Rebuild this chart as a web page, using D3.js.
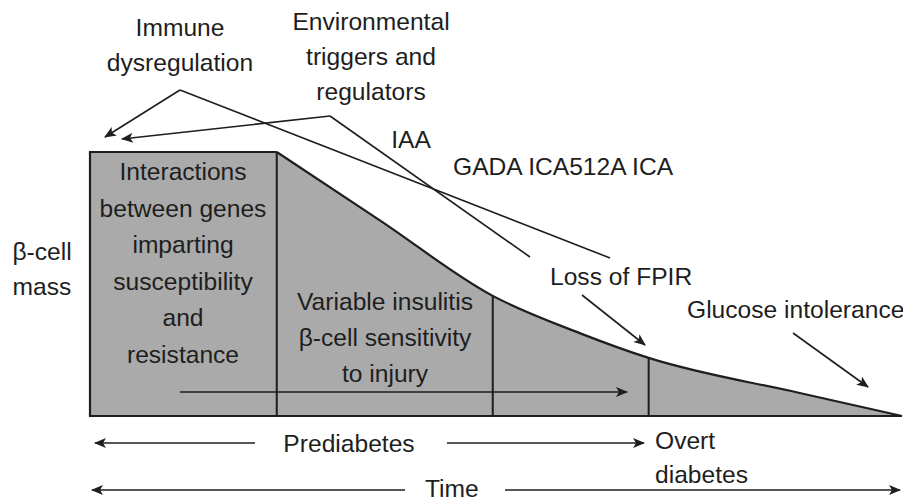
<!DOCTYPE html>
<html>
<head>
<meta charset="utf-8">
<script src="https://cdn.jsdelivr.net/npm/d3@7"></script>
<style>
  body { margin: 0; background: #fff; }
  text { font-family: "Liberation Sans", Arial, sans-serif; fill: #1e1e1e; }
</style>
</head>
<body>
<div id="chart"></div>
<script>
// beta-cell mass over time (arbitrary units, 0-100)
var timePoints = [0, 23.0, 35.7, 49.6, 60.3, 68.8, 87.4, 100];
var massValues = [100, 100, 74.1, 45.5, 31.4, 22.0, 8.7, 0];
// phase dividers (index into the curve)
var dividerIdx = [1, 3, 5];

var boxLines = ["Interactions", "between genes", "imparting", "susceptibility", "and", "resistance"];
var insulitisLines = ["Variable insulitis", "\u03b2-cell sensitivity", "to injury"];
var yLabel = ["\u03b2-cell", "mass"];
var immuneLabel = ["Immune", "dysregulation"];
var envLabel = ["Environmental", "triggers and", "regulators"];

var width = 903, height = 501;
var margin = { top: 152, right: 1, bottom: 85, left: 90 };

var svg = d3.select("#chart")
    .append("svg")
    .attr("width", width)
    .attr("height", height);

var defs = svg.append("defs");
defs.append("marker")
    .attr("id", "head")
    .attr("viewBox", "0 0 12 10")
    .attr("refX", 11)
    .attr("refY", 5)
    .attr("markerWidth", 13)
    .attr("markerHeight", 10)
    .attr("markerUnits", "userSpaceOnUse")
    .attr("orient", "auto")
    .append("path")
    .attr("d", "M0,0 L12,5 L0,10 L3,5 Z")
    .attr("fill", "#1e1e1e");

var x = d3.scaleLinear()
    .domain([0, 100])
    .range([margin.left, width - margin.right]);
var y = d3.scaleLinear()
    .domain([0, 100])
    .range([height - margin.bottom, margin.top]);

var pts = timePoints.map(function(t, i) { return [t, massValues[i]]; });
var flat = pts.slice(0, 2);   // plateau
var decline = pts.slice(1);   // falling part, smoothed

// filled area
var areaFlat = d3.area()
    .x(function(d) { return x(d[0]); })
    .y0(y(0))
    .y1(function(d) { return y(d[1]); });
var areaDecline = d3.area()
    .curve(d3.curveMonotoneX)
    .x(function(d) { return x(d[0]); })
    .y0(y(0))
    .y1(function(d) { return y(d[1]); });

svg.append("path").datum(flat).attr("d", areaFlat).attr("fill", "#aaaaaa");
svg.append("path").datum(decline).attr("d", areaDecline).attr("fill", "#aaaaaa")
    .attr("stroke", "#aaaaaa").attr("stroke-width", 0.5);

// outline
var lineFlat = d3.line()
    .x(function(d) { return x(d[0]); })
    .y(function(d) { return y(d[1]); });
var lineDecline = d3.line()
    .curve(d3.curveMonotoneX)
    .x(function(d) { return x(d[0]); })
    .y(function(d) { return y(d[1]); });

svg.append("path")
    .datum([[timePoints[timePoints.length - 1], 0], [0, 0]].concat(flat))
    .attr("d", lineFlat)
    .attr("fill", "none")
    .attr("stroke", "#1e1e1e")
    .attr("stroke-width", 2.2)
    .attr("stroke-linejoin", "miter");

svg.append("path")
    .datum(decline)
    .attr("d", lineDecline)
    .attr("fill", "none")
    .attr("stroke", "#1e1e1e")
    .attr("stroke-width", 2.2);

// vertical dividers
svg.selectAll(".divider")
    .data(dividerIdx)
    .enter()
    .append("line")
    .attr("class", "divider")
    .attr("x1", function(i) { return x(timePoints[i]); })
    .attr("x2", function(i) { return x(timePoints[i]); })
    .attr("y1", y(0))
    .attr("y2", function(i) { return y(massValues[i]); })
    .attr("stroke", "#1e1e1e")
    .attr("stroke-width", 2);

function arrow(x1, y1, x2, y2, head) {
    var l = svg.append("line")
        .attr("x1", x1).attr("y1", y1)
        .attr("x2", x2).attr("y2", y2)
        .attr("stroke", "#1e1e1e")
        .attr("stroke-width", 1.6);
    if (head) l.attr("marker-end", "url(#head)");
    return l;
}

function label(lines, cx, y0, dy, anchor) {
    var t = svg.append("text")
        .attr("text-anchor", anchor || "middle")
        .style("font-size", "24.6px");
    lines.forEach(function(s, i) {
        t.append("tspan").attr("x", cx).attr("y", y0 + i * dy).text(s);
    });
    return t;
}

// inner time arrow
arrow(180, 392, 627, 392, true);

// text inside the shape
label(boxLines, 183, 180, 36.5);
label(insulitisLines, 385, 310, 36);
label(yLabel, 42, 260, 35);

// top annotations
label(immuneLabel, 180, 36, 35);
label(envLabel, 371, 30, 35);
label(["IAA"], 411, 148, 0);
label(["GADA ICA512A ICA"], 453, 175, 0, "start");
label(["Loss of FPIR"], 550, 285, 0, "start");
label(["Glucose intolerance"], 687, 318, 0, "start");

arrow(180, 90, 105, 137, true);
arrow(180, 90, 610, 258, false);
arrow(330, 116, 122, 139, true);
arrow(330, 116, 530, 257, false);
arrow(582, 295, 645, 345, true);
arrow(793, 333, 868, 387, true);

// bottom time arrows
label(["Prediabetes"], 349, 452, 0);
arrow(255, 443, 95, 443, true);
arrow(447, 443, 644, 443, true);
label(["Overt", "diabetes"], 655, 449, 34, "start");

label(["Time"], 425, 497, 0, "start");
arrow(405, 490, 92, 490, true);
arrow(505, 490, 900, 490, true);
</script>
</body>
</html>
